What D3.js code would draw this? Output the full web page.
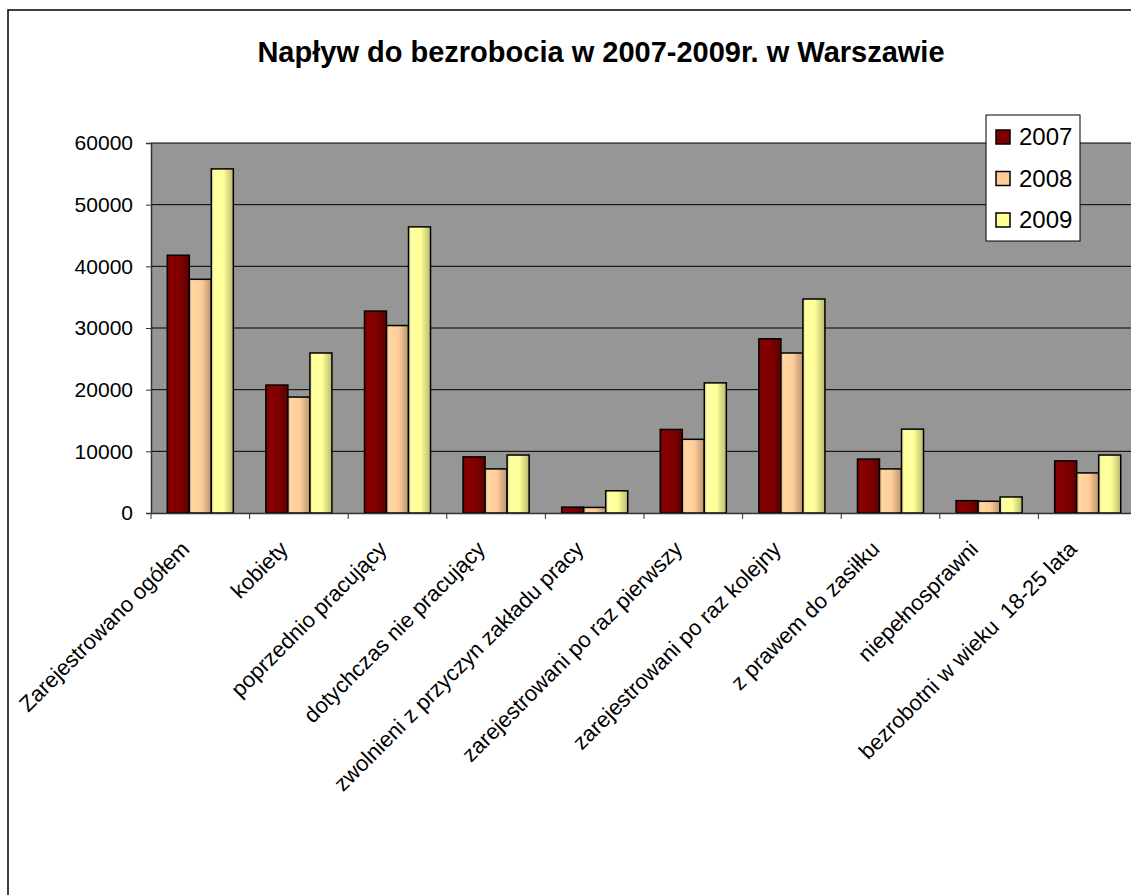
<!DOCTYPE html>
<html>
<head>
<meta charset="utf-8">
<script src="https://cdn.jsdelivr.net/npm/d3@7"></script>
<style>
  html, body { margin: 0; padding: 0; background: #fff; }
  svg { display: block; font-family: "Liberation Sans", Arial, sans-serif; }
</style>
</head>
<body>
<svg id="chart" width="1131" height="895"></svg>
<script>
const categories = [
  "Zarejestrowano ogółem",
  "kobiety",
  "poprzednio pracujący",
  "dotychczas nie pracujący",
  "zwolnieni z przyczyn zakładu pracy",
  "zarejestrowani po raz pierwszy",
  "zarejestrowani po raz kolejny",
  "z prawem do zasiłku",
  "niepełnosprawni",
  "bezrobotni w wieku  18-25 lata"
];
const seriesNames = ["2007", "2008", "2009"];
const values2007 = [41800, 20750, 32750, 9100, 950, 13550, 28250, 8750, 2000, 8450];
const values2008 = [37900, 18800, 30400, 7150, 900, 11950, 25950, 7150, 1900, 6500];
const values2009 = [55800, 25950, 46400, 9400, 3600, 21100, 34700, 13600, 2600, 9400];
const yTicks = [0, 10000, 20000, 30000, 40000, 50000, 60000];
const colors = ["#800000", "#FFCC99", "#FFFF99"];
const title = "Napływ do bezrobocia w 2007-2009r. w Warszawie";

const seriesValues = [values2007, values2008, values2009];

const svg = d3.select("#chart");
const plot = { left: 151, top: 143, right: 1137, bottom: 513 };

// chart border
svg.append("rect")
  .attr("x", 8).attr("y", 10)
  .attr("width", 1200).attr("height", 1000)
  .attr("fill", "#fff").attr("stroke", "#000").attr("stroke-width", 1.5);

// gradients for the 3D-ish bar look
const defs = svg.append("defs");
colors.forEach((c, i) => {
  const base = d3.color(c);
  const g = defs.append("linearGradient").attr("id", "grad" + i)
    .attr("x1", "0%").attr("x2", "100%").attr("y1", "0%").attr("y2", "0%");
  g.append("stop").attr("offset", "0%").attr("stop-color", base.darker(0.5));
  g.append("stop").attr("offset", "12%").attr("stop-color", base.brighter(0.15));
  g.append("stop").attr("offset", "55%").attr("stop-color", c);
  g.append("stop").attr("offset", "100%").attr("stop-color", base.darker(0.9));
});

const x0 = d3.scaleBand().domain(categories).range([plot.left, plot.right]).paddingInner(0).paddingOuter(0);
const groupW = x0.bandwidth() * 0.67;
const x1 = d3.scaleBand().domain(seriesNames).range([0, groupW]).padding(0);
const y = d3.scaleLinear().domain([0, 60000]).range([plot.bottom, plot.top]);

// plot area
svg.append("rect")
  .attr("x", plot.left).attr("y", plot.top)
  .attr("width", plot.right - plot.left).attr("height", plot.bottom - plot.top)
  .attr("fill", "#969696");

// gridlines
svg.append("g").selectAll("line").data(yTicks.filter(d => d > 0)).join("line")
  .attr("x1", plot.left).attr("x2", plot.right)
  .attr("y1", d => y(d)).attr("y2", d => y(d))
  .attr("stroke", "#000").attr("stroke-width", 1);

// bars
const groups = svg.append("g").selectAll("g").data(categories).join("g")
  .attr("transform", d => `translate(${x0(d) + (x0.bandwidth() - groupW) / 2},0)`);
groups.selectAll("rect")
  .data((d, ci) => seriesNames.map((s, si) => ({ s, si, v: seriesValues[si][ci] })))
  .join("rect")
  .attr("x", d => x1(d.s))
  .attr("width", x1.bandwidth())
  .attr("y", d => y(d.v))
  .attr("height", d => y(0) - y(d.v))
  .attr("fill", d => `url(#grad${d.si})`)
  .attr("stroke", "#000").attr("stroke-width", 1.5);

// y axis
const yAxis = svg.append("g").attr("transform", `translate(${plot.left},0)`)
  .call(d3.axisLeft(y).tickValues(yTicks).tickFormat(d3.format("d")).tickSize(5).tickPadding(13));
yAxis.select(".domain").attr("stroke", "#333").attr("stroke-width", 1.5);
yAxis.selectAll(".tick line").attr("stroke", "#333");
yAxis.selectAll("text").attr("font-size", 21).attr("fill", "#000")
  .attr("font-family", "'Liberation Sans', Arial, sans-serif");

// x axis
const xAxis = svg.append("g").attr("transform", `translate(0,${plot.bottom})`)
  .call(d3.axisBottom(x0).tickSize(0).tickFormat(""));
xAxis.select(".domain").attr("stroke", "#333").attr("stroke-width", 1.5);
// category boundary ticks
svg.append("g").selectAll("line").data(categories).join("line")
  .attr("x1", d => x0(d)).attr("x2", d => x0(d))
  .attr("y1", plot.bottom).attr("y2", plot.bottom + 6)
  .attr("stroke", "#333").attr("stroke-width", 1);

// category labels
svg.append("g").selectAll("text").data(categories).join("text")
  .attr("transform", d => `translate(${x0(d) + x0.bandwidth() / 2 - 15},${plot.bottom + 32}) rotate(-45)`)
  .attr("text-anchor", "end")
  .attr("dy", "0.35em")
  .attr("font-size", 22)
  .attr("fill", "#000")
  .attr("xml:space", "preserve")
  .text(d => d);

// title
svg.append("text")
  .attr("x", 601).attr("y", 62)
  .attr("text-anchor", "middle")
  .attr("font-size", 29).attr("font-weight", "bold")
  .attr("fill", "#000")
  .text(title);

// legend
const legend = svg.append("g");
legend.append("rect")
  .attr("x", 986).attr("y", 115).attr("width", 94).attr("height", 126)
  .attr("fill", "#fff").attr("stroke", "#000").attr("stroke-width", 1);
const legY = d3.scalePoint().domain(seriesNames).range([137, 220]);
legend.selectAll("rect.sw").data(seriesNames).join("rect")
  .attr("class", "sw")
  .attr("x", 996).attr("y", d => legY(d) - 7)
  .attr("width", 14).attr("height", 14)
  .attr("fill", (d, i) => colors[i]).attr("stroke", "#000").attr("stroke-width", 1.5);
legend.selectAll("text").data(seriesNames).join("text")
  .attr("x", 1019).attr("y", d => legY(d))
  .attr("dy", "0.35em")
  .attr("font-size", 24).attr("fill", "#000")
  .text(d => d);
</script>
</body>
</html>
